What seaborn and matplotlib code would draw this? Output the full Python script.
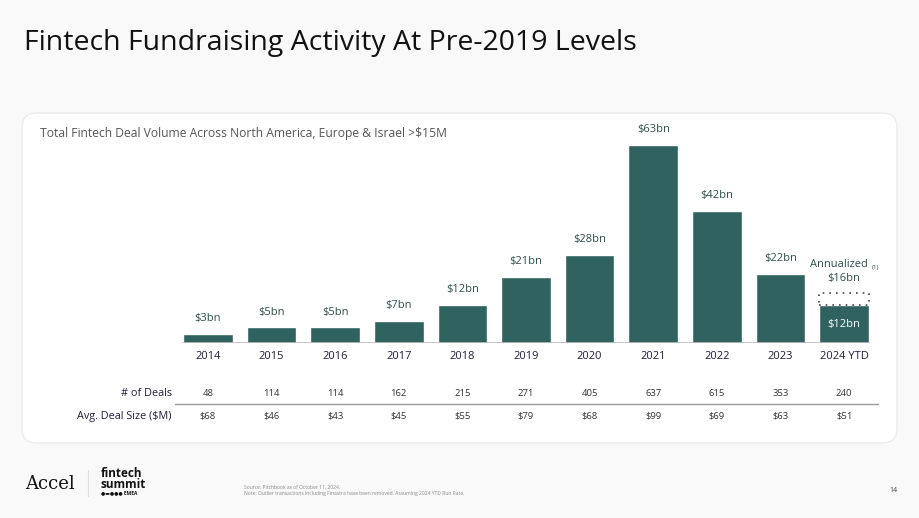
import matplotlib
matplotlib.use("Agg")
import matplotlib.pyplot as plt
import matplotlib.transforms as mtransforms
from matplotlib.patches import FancyBboxPatch, Rectangle
import pandas as pd
import seaborn as sns

# data
years = ["2014", "2015", "2016", "2017", "2018", "2019", "2020", "2021", "2022", "2023", "2024 YTD"]
volume_bn = [3, 5, 5, 7, 12, 21, 28, 63, 42, 22, 12]
annualized_2024 = 16
deals = [48, 114, 114, 162, 215, 271, 405, 637, 615, 353, 240]
avg_deal = [68, 46, 43, 45, 55, 79, 68, 99, 69, 63, 51]

df = pd.DataFrame({"year": years, "volume": volume_bn})

sns.set_style("white")
plt.rcParams["font.family"] = ["Open Sans", "DejaVu Sans"]

teal = "#30635F"
label_col = "#2E4E4B"
navy = "#231F3A"

fig = plt.figure(figsize=(9.2, 5.18), dpi=100)
fig.patch.set_facecolor("#F9F9F9")

# white card behind the chart
card = FancyBboxPatch((22 / 920, 1 - 443 / 518), 875 / 920, 330 / 518,
                      boxstyle="round,pad=0,rounding_size=0.016", mutation_aspect=920 / 518,
                      transform=fig.transFigure, facecolor="white", edgecolor="#ECECEC",
                      linewidth=1.0, zorder=-5)
fig.patches.append(card)

fig.text(24 / 920, 1 - 43 / 518, "Fintech Fundraising Activity At Pre-2019 Levels",
         fontsize=20.5, color="#111111", va="center", ha="left")
fig.text(40 / 920, 1 - 133 / 518,
         "Total Fintech Deal Volume Across North America, Europe & Israel >$15M",
         fontsize=8.7, color="#555555", va="center", ha="left")

ax = fig.add_axes([176 / 920, 1 - 343 / 518, 700 / 920, 223 / 518])
ax.set_zorder(3)
ax.set_facecolor("none")
sns.barplot(data=df, x="year", y="volume", color=teal, width=0.78, saturation=1, ax=ax)
ax.set_ylim(0, 223 / 3.15)
ax.set_xlim(-0.5, len(years) - 0.5)
sns.despine(ax=ax, left=True, bottom=True)
ax.set_yticks([])
ax.set_xlabel("")
ax.set_ylabel("")
ax.tick_params(axis="x", length=0, pad=6, labelsize=8, labelcolor=navy)
ax.axhline(0, xmin=0.01, xmax=0.99, color="#BBBBBB", linewidth=1.2)

for i, v in enumerate(volume_bn):
    if i == len(volume_bn) - 1:
        ax.text(i, v / 2, f"${v}bn", ha="center", va="center", color="white", fontsize=8)
    else:
        ax.annotate(f"${v}bn", (i, v), xytext=(0, 7), textcoords="offset points",
                    ha="center", va="bottom", color=label_col, fontsize=8)

# annualized 2024 run rate, dotted box on top of the YTD bar
last = len(years) - 1
ax.add_patch(Rectangle((last - 0.39, volume_bn[-1]), 0.78, annualized_2024 - volume_bn[-1],
                       fill=False, linestyle=(0, (1, 3)), linewidth=1.2, edgecolor="#444444"))
ax.annotate(f"${annualized_2024}bn", (last, annualized_2024), xytext=(0, 6),
            textcoords="offset points", ha="center", va="bottom", color=label_col, fontsize=8)
ax.annotate("Annualized", (last, annualized_2024), xytext=(-4, 16),
            textcoords="offset points", ha="center", va="bottom", color=label_col, fontsize=8)
ax.annotate("(1)", (last, annualized_2024), xytext=(19.5, 16.5),
            textcoords="offset points", ha="left", va="bottom", color=label_col, fontsize=4.5)

# table rows below the chart
trans = mtransforms.blended_transform_factory(ax.transData, fig.transFigure)
y_deals = 1 - 393 / 518
y_avg = 1 - 416 / 518
for i in range(len(years)):
    ax.text(i, y_deals, str(deals[i]), transform=trans, ha="center", va="center",
            fontsize=6.8, color="#333333", clip_on=False)
    ax.text(i, y_avg, f"${avg_deal[i]}", transform=trans, ha="center", va="center",
            fontsize=6.8, color="#333333", clip_on=False)
fig.text(172 / 920, y_deals, "# of Deals", ha="right", va="center", fontsize=7.8, color=navy)
fig.text(172 / 920, y_avg, "Avg. Deal Size ($M)", ha="right", va="center", fontsize=7.8, color=navy)
fig.add_artist(plt.Line2D([175 / 920, 878 / 920], [1 - 404 / 518, 1 - 404 / 518],
                          transform=fig.transFigure, color="#999999", linewidth=1))

# footer
fig.text(25 / 920, 1 - 484 / 518, "Accel", family="DejaVu Serif", fontsize=13,
         color="#111111", va="center", ha="left")
fig.add_artist(plt.Line2D([88 / 920, 88 / 920], [1 - 470 / 518, 1 - 496 / 518],
                          transform=fig.transFigure, color="#DDDDDD", linewidth=0.8))
fig.text(101 / 920, 1 - 479 / 518, "fintech\nsummit", fontsize=8.5, fontweight="bold",
         color="#111111", va="center", ha="left", linespacing=0.8)
fig.text(101 / 920, 1 - 493 / 518, "\u25cf\u25ac\u25cf\u25cf\u25cf EMEA", fontsize=3.5,
         fontweight="bold", color="#111111", va="center", ha="left")
fig.text(244 / 920, 1 - 487 / 518, "Source: Pitchbook as of October 11, 2024.", fontsize=3.6,
         color="#888888", va="center", ha="left")
fig.text(244 / 920, 1 - 494 / 518,
         "Note: Outlier transactions including Finastra have been removed. Assuming 2024 YTD Run Rate.",
         fontsize=3.6, color="#888888", va="center", ha="left")
fig.text(893 / 920, 1 - 490 / 518, "14", fontsize=5, color="#444444", va="center", ha="center")

fig.savefig("out.png", dpi=100, facecolor=fig.get_facecolor())
